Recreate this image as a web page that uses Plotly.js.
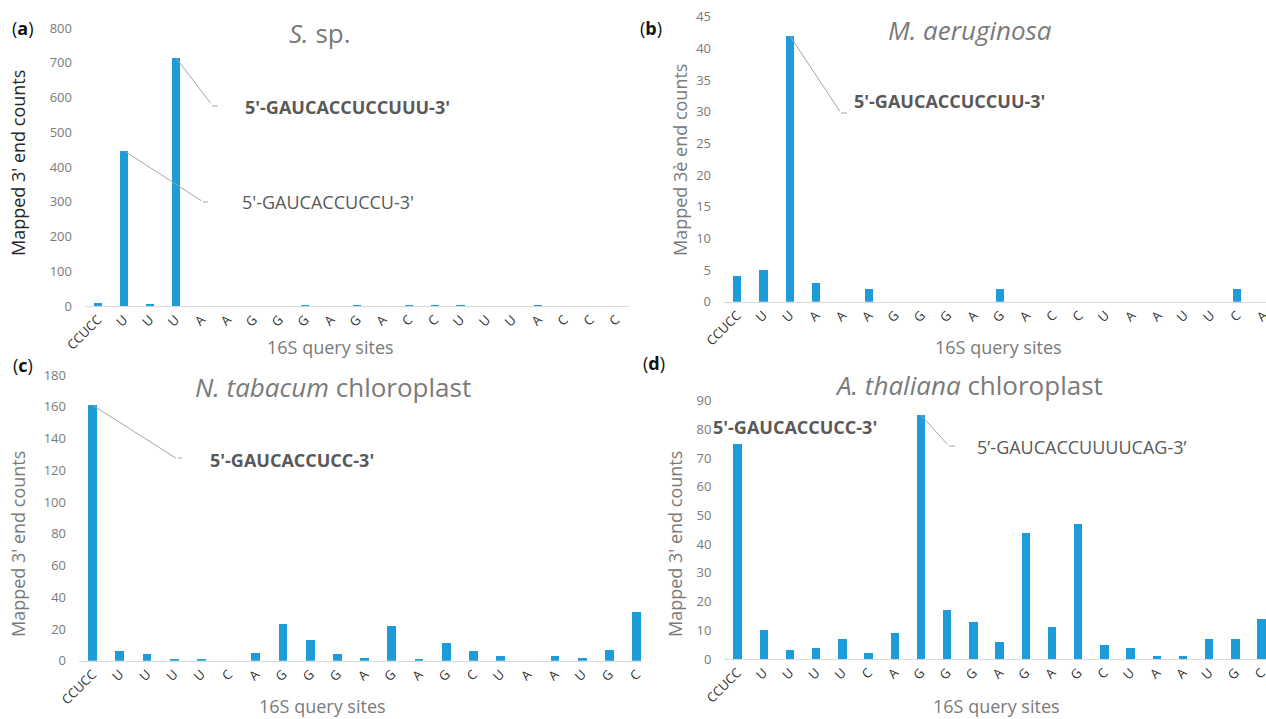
<!DOCTYPE html>
<html>
<head>
<meta charset="utf-8">
<script src="https://cdn.plot.ly/plotly-3.0.1.min.js"></script>
<style>html,body{margin:0;padding:0;background:#fff;}#chart{width:1266px;height:719px;}</style>
</head>
<body>
<div id="chart"></div>
<script>
// ---- data ----
const sitesA = ['CCUCC','U','U','U','A','A','G','G','G','A','G','A','C','C','U','U','U','A','C','C','C'];
const countsA = [10,447,6,715,1,0,0,0,3,0,2,0,3,4,2,0,0,2,0,0,0];
const sitesB = ['CCUCC','U','U','A','A','A','G','G','G','A','G','A','C','C','U','A','A','U','U','C','A'];
const countsB = [4,5,42,3,0,2,0,0,0,0,2,0,0,0,0,0,0,0,0,2,0];
const sitesC = ['CCUCC','U','U','U','U','C','A','G','G','G','A','G','A','G','C','U','A','A','U','G','C'];
const countsC = [161,6,4,1,1,0,5,23,13,4,2,22,1,11,6,3,0,3,2,7,31];
const sitesD = ['CCUCC','U','U','U','U','C','A','G','G','G','A','G','A','G','C','U','A','A','U','G','C'];
const countsD = [75,10,3,4,7,2,9,85,17,13,6,44,11,47,5,4,1,1,7,7,14];
const yTicksA = [0,100,200,300,400,500,600,700,800];
const yTicksB = [0,5,10,15,20,25,30,35,40,45];
const yTicksC = [0,20,40,60,80,100,120,140,160,180];
const yTicksD = [0,10,20,30,40,50,60,70,80,90];

const W = 1266, H = 719;
const px = v => v / W;
const py = v => 1 - v / H;
const BLUE = '#1E9CD9';
const GRAY = '#7a7a7a';
const DARK = '#595959';
const LINEC = '#a6a6a6';
const FONT = 'Open Sans, Noto Sans, sans-serif';

const idx = arr => arr.map((_, i) => i);

function bar(x, y, xa, ya) {
  return {type:'bar', x: idx(x), y: y, xaxis: xa, yaxis: ya, width: 0.32,
    marker:{color: BLUE}, hoverinfo:'skip', showlegend:false};
}
const data = [
  bar(sitesA, countsA, 'x', 'y'),
  bar(sitesB, countsB, 'x2', 'y2'),
  bar(sitesC, countsC, 'x3', 'y3'),
  bar(sitesD, countsD, 'x4', 'y4')
];

function xax(sites, d0, d1, rmax, anchor) {
  return {domain:[px(d0), px(d1)], range:[-0.5, rmax], anchor: anchor,
    tickvals: idx(sites), ticktext: sites, tickangle: -45,
    tickfont:{family: FONT, size: 13, color:'#303030'},
    ticklabeloverflow:'allow',
    showline: true, linecolor:'#d9d9d9', linewidth: 1,
    showgrid:false, zeroline:false, ticks:'', fixedrange:true};
}
function yax(ticks, top, bottom, anchor) {
  return {domain:[py(bottom), py(top)], range:[0, ticks[ticks.length-1]], anchor: anchor,
    tickvals: ticks, tickfont:{family: FONT, size: 13, color: GRAY},
    showline:false, showgrid:false, zeroline:false, ticks:'', ticklabelstandoff: 12, fixedrange:true};
}

function txt(text, x, y, opts) {
  return Object.assign({text: text, xref:'paper', yref:'paper', x: px(x), y: py(y),
    showarrow:false, xanchor:'center', yanchor:'middle',
    font:{family: FONT, size: 18, color: GRAY}}, opts || {});
}
function leader(xr, yr, i, vals, ax, ay) {
  return {text:'', xref: xr, yref: yr, x: i, y: vals[i], ax: ax, ay: ay,
    showarrow:true, arrowhead:0, arrowwidth:1, arrowcolor: LINEC, standoff:0,
    font:{size:1}};
}
function elbow(x0, y, x1) {
  return {type:'line', xref:'paper', yref:'paper', x0: px(x0), x1: px(x1), y0: py(y), y1: py(y),
    line:{color: LINEC, width: 1}};
}

const annotations = [
  // panel letters
  txt('(<b>a</b>)', 10, 28, {xanchor:'left', font:{family: FONT, size: 18, color:'#111'}}),
  txt('(<b>b</b>)', 638, 28, {xanchor:'left', font:{family: FONT, size: 18, color:'#111'}}),
  txt('(<b>c</b>)', 11, 365, {xanchor:'left', font:{family: FONT, size: 18, color:'#111'}}),
  txt('(<b>d</b>)', 641, 363, {xanchor:'left', font:{family: FONT, size: 18, color:'#111'}}),
  // titles
  txt('<i>S.</i> sp.', 320, 33, {font:{family: FONT, size: 26, color: GRAY}}),
  txt('<i>M. aeruginosa</i>', 970, 30, {font:{family: FONT, size: 26, color: GRAY}}),
  txt('<i>N. tabacum</i> chloroplast', 333, 387, {font:{family: FONT, size: 26, color: GRAY}}),
  txt('<i>A. thaliana</i> chloroplast', 969, 385, {font:{family: FONT, size: 26, color: GRAY}}),
  // y axis titles
  txt("Mapped 3' end counts", 18, 163, {textangle:-90, font:{family: FONT, size: 18, color:'#262626'}}),
  txt("Mapped 3è end counts", 680, 160, {textangle:-90}),
  txt("Mapped 3' end counts", 18, 544, {textangle:-90}),
  txt("Mapped 3' end counts", 675, 544, {textangle:-90}),
  // x axis titles
  txt('16S query sites', 330, 347),
  txt('16S query sites', 998, 347),
  txt('16S query sites', 322, 706),
  txt('16S query sites', 996, 706),
  // sequence labels
  txt("<b>5'-GAUCACCUCCUUU-3'</b>", 243, 107, {xanchor:'left', font:{family: FONT, size: 18, color: DARK}}),
  txt("5'-GAUCACCUCCU-3'", 240, 202, {xanchor:'left', font:{family: FONT, size: 18, color: DARK}}),
  txt("<b>5'-GAUCACCUCCUU-3'</b>", 852, 101, {xanchor:'left', font:{family: FONT, size: 18, color: DARK}}),
  txt("<b>5'-GAUCACCUCC-3'</b>", 208, 460, {xanchor:'left', font:{family: FONT, size: 18, color: DARK}}),
  txt("<b>5'-GAUCACCUCC-3'</b>", 711, 427, {xanchor:'left', font:{family: FONT, size: 18, color: DARK}}),
  txt("5\u2019-GAUCACCUUUUCAG-3\u2019", 975, 447, {xanchor:'left', font:{family: FONT, size: 18, color: DARK}}),
  // leader lines anchored on bar tops
  leader('x', 'y', 3, countsA, 36, 47),
  leader('x', 'y', 1, countsA, 79, 51),
  leader('x2', 'y2', 2, countsB, 51, 77),
  leader('x3', 'y3', 0, countsC, 85, 54),
  leader('x4', 'y4', 7, countsD, 28, 31)
];

const shapes = [
  elbow(212, 106, 218),
  elbow(203, 202, 208),
  elbow(841, 113, 847),
  elbow(178, 458, 182),
  elbow(949, 446, 955)
];

const layout = {
  width: W, height: H,
  margin:{l:0, r:0, t:0, b:0},
  paper_bgcolor:'#fff', plot_bgcolor:'rgba(0,0,0,0)',
  bargap: 0,
  showlegend:false,
  xaxis: xax(sitesA, 85, 629, 20.5, 'y'),
  yaxis: yax(yTicksA, 28, 306, 'x'),
  xaxis2: xax(sitesB, 724, 1266, 20.1, 'y2'),
  yaxis2: yax(yTicksB, 16.7, 301.7, 'x2'),
  xaxis3: xax(sitesC, 79, 641, 20.16, 'y3'),
  yaxis3: yax(yTicksC, 375, 660.7, 'x3'),
  xaxis4: xax(sitesD, 724.4, 1266, 20.17, 'y4'),
  yaxis4: yax(yTicksD, 400.7, 659, 'x4'),
  annotations: annotations,
  shapes: shapes,
  font:{family: FONT}
};

Plotly.newPlot('chart', data, layout, {displayModeBar:false, staticPlot:true});
</script>
</body>
</html>
